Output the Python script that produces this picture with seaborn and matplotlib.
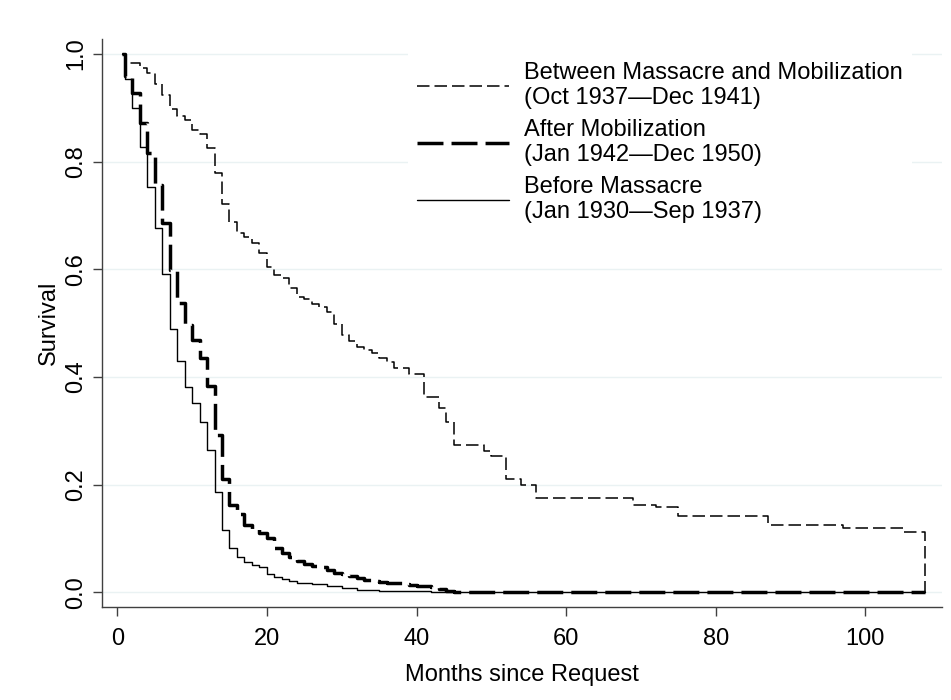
import numpy as np
import pandas as pd
import matplotlib
matplotlib.use("Agg")
import matplotlib.pyplot as plt
import seaborn as sns

# ------------------------------
# Kaplan-Meier step values (month of drop, survival after drop)
# ------------------------------
months_before = [0.6, 1, 2, 3, 4, 5, 6, 7, 8, 9, 10, 11, 12, 13, 14, 15, 16, 17,
                 18, 19, 20, 21, 22, 23, 24, 26, 28, 30, 32, 35, 38, 42, 45, 108]
surv_before = [1.0, 0.953, 0.899, 0.827, 0.753, 0.677, 0.591, 0.490, 0.430, 0.381,
               0.351, 0.317, 0.264, 0.186, 0.116, 0.082, 0.066, 0.056, 0.051, 0.047,
               0.034, 0.028, 0.025, 0.021, 0.018, 0.0145, 0.011, 0.007, 0.0046, 0.003,
               0.0015, 0.0006, 0.0, 0.0]

months_after = [0.6, 1, 2, 3, 4, 5, 6, 7, 8, 9, 10, 11, 12, 13, 14, 15, 16, 17, 18,
                19, 20, 21, 22, 23, 24, 25, 26, 27, 28, 29, 30, 31, 32, 33, 34, 35,
                36, 37, 38, 39, 40, 41, 42, 43, 44, 45, 108]
surv_after = [1.0, 0.960, 0.927, 0.871, 0.816, 0.757, 0.687, 0.599, 0.537, 0.497,
              0.469, 0.436, 0.383, 0.293, 0.210, 0.163, 0.145, 0.125, 0.118, 0.110,
              0.100, 0.082, 0.072, 0.065, 0.058, 0.052, 0.049, 0.046, 0.042, 0.036,
              0.033, 0.030, 0.026, 0.022, 0.021, 0.019, 0.018, 0.017, 0.016, 0.014,
              0.012, 0.011, 0.009, 0.006, 0.003, 0.0, 0.0]

months_between = [0.6, 1, 3, 4, 5, 6, 7, 8, 9, 10, 11, 12, 13, 14, 15, 16, 17, 18,
                  19, 20, 21, 22, 23, 24, 25, 26, 27, 28, 29, 30, 31, 32, 33, 34, 35,
                  36, 37, 39, 41, 43, 44, 45, 49, 50, 52, 54, 56, 69, 72, 75, 87, 97,
                  105, 108]
surv_between = [1.0, 0.984, 0.975, 0.965, 0.944, 0.924, 0.898, 0.885, 0.877, 0.859,
                0.852, 0.826, 0.779, 0.721, 0.688, 0.668, 0.660, 0.649, 0.630, 0.605,
                0.590, 0.584, 0.565, 0.549, 0.545, 0.536, 0.530, 0.521, 0.499, 0.478,
                0.466, 0.456, 0.450, 0.445, 0.435, 0.428, 0.417, 0.406, 0.363, 0.342,
                0.316, 0.274, 0.262, 0.253, 0.210, 0.200, 0.175, 0.163, 0.158, 0.142,
                0.125, 0.119, 0.111, 0.0]

legend_labels = ["Between Massacre and Mobilization\n(Oct 1937\u2014Dec 1941)",
                 "After Mobilization\n(Jan 1942\u2014Dec 1950)",
                 "Before Massacre\n(Jan 1930\u2014Sep 1937)"]

x_ticks = [0, 20, 40, 60, 80, 100]
y_ticks = [0.0, 0.2, 0.4, 0.6, 0.8, 1.0]

# ------------------------------
# Style
# ------------------------------
sns.set_theme(style="white")
plt.rcParams['font.family'] = ['Liberation Sans', 'DejaVu Sans']
plt.rcParams['text.color'] = 'black'
plt.rcParams['lines.scale_dashes'] = False
axis_col = '#404040'

fig = plt.figure(figsize=(9.51, 7.0), dpi=100)
ax = fig.add_axes([102.3 / 951, (700 - 607.3) / 700, 839.4 / 951, 568.3 / 700])

# ------------------------------
# Curves
# ------------------------------
sns.lineplot(x=months_before, y=surv_before, ax=ax, color='black', linewidth=1.0,
             drawstyle='steps-post', estimator=None, sort=False)
sns.lineplot(x=months_after, y=surv_after, ax=ax, color='black', linewidth=2.5,
             drawstyle='steps-post', estimator=None, sort=False)
sns.lineplot(x=months_between, y=surv_between, ax=ax, color='black', linewidth=1.1,
             drawstyle='steps-post', estimator=None, sort=False)

h_before, h_after, h_between = ax.get_lines()[:3]
h_after.set_dashes((18.7, 5.8))
h_after.set_dash_capstyle('butt')
h_between.set_dashes((9, 3.6))
h_between.set_dash_capstyle('butt')

# ------------------------------
# Axes
# ------------------------------
ax.set_xlim(-2.0, 110.2)
ax.set_ylim(-0.028, 1.028)
ax.set_xticks(x_ticks)
ax.set_yticks(y_ticks)
ax.set_yticklabels([f"{v:.1f}" for v in y_ticks])
ax.yaxis.grid(True, color='#eaf2f3', linewidth=1.0)
ax.xaxis.grid(False)
ax.set_axisbelow(True)

for side in ['top', 'right']:
    ax.spines[side].set_visible(False)
for side in ['left', 'bottom']:
    ax.spines[side].set_color(axis_col)
    ax.spines[side].set_linewidth(1.0)

ax.tick_params(axis='both', direction='out', length=6.7, width=1.0, color=axis_col,
               labelsize=17, labelcolor='black')
ax.tick_params(axis='x', pad=8, bottom=True)
ax.tick_params(axis='y', pad=4, left=True, labelrotation=90)
for lab in ax.get_yticklabels():
    lab.set_va('center')

ax.set_xlabel("Months since Request", fontsize=17, labelpad=10, color='black')
ax.set_ylabel("Survival", fontsize=17, labelpad=4, color='black')

# ------------------------------
# Legend
# ------------------------------
leg = ax.legend(handles=[h_between, h_after, h_before], labels=legend_labels,
                loc='upper left', bbox_to_anchor=(0.364, 0.976), borderaxespad=0,
                frameon=True, fancybox=False, facecolor='white', edgecolor='none',
                framealpha=1, fontsize=17, handlelength=3.9, handletextpad=0.62,
                labelspacing=0.4, borderpad=0.4)
for t in leg.get_texts():
    t.set_linespacing(1.2)
    t.set_color('black')

fig.savefig('out.png', dpi=100)
